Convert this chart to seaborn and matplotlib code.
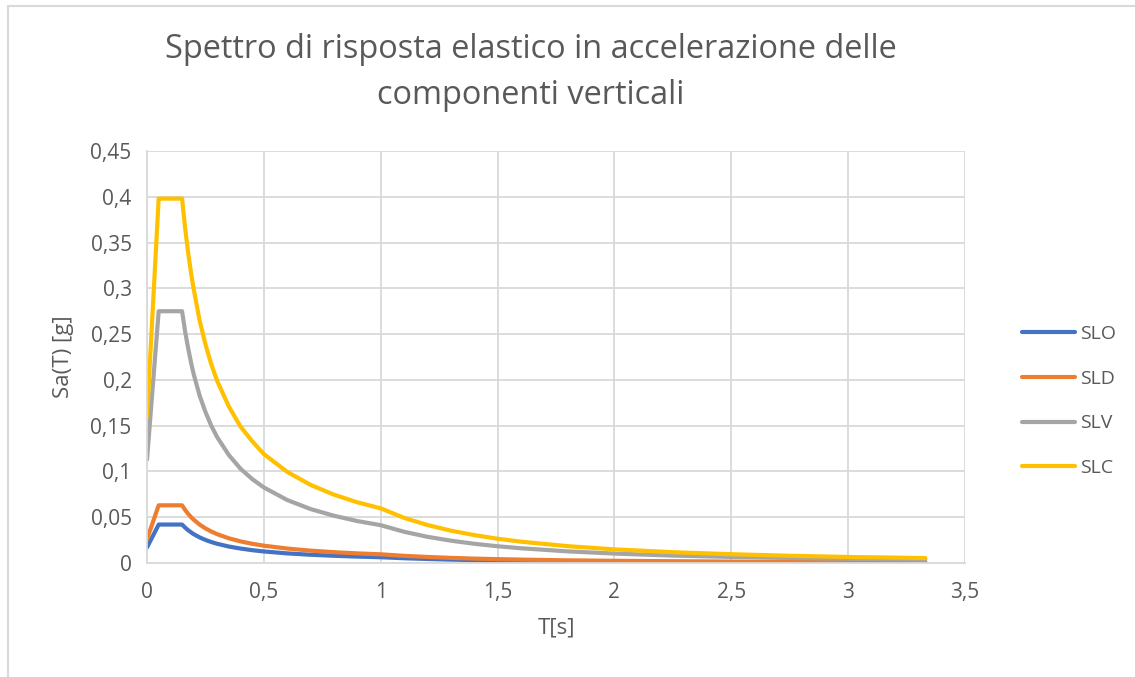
import matplotlib
matplotlib.use("Agg")
import matplotlib.pyplot as plt
import matplotlib.lines as mlines
import seaborn as sns
import pandas as pd

# Periods T [s] and spectral accelerations Sa(T) [g] for each limit state
periods = [0.0, 0.05, 0.15, 0.163, 0.175, 0.19, 0.2, 0.225, 0.25, 0.275, 0.3, 0.35,
           0.4, 0.45, 0.5, 0.6, 0.7, 0.8, 0.9, 1.0, 1.1, 1.2, 1.3, 1.4, 1.5, 1.6,
           1.8, 2.0, 2.25, 2.5, 2.75, 3.0, 3.33]

slo = [0.017, 0.042, 0.042, 0.0387, 0.036, 0.0332, 0.0315, 0.028, 0.0252, 0.0229,
       0.021, 0.018, 0.0158, 0.014, 0.0126, 0.0105, 0.009, 0.0079, 0.007, 0.0063,
       0.0052, 0.0044, 0.0037, 0.0032, 0.0028, 0.0025, 0.0019, 0.0016, 0.0012,
       0.001, 0.0008, 0.0007, 0.0006]
sld = [0.026, 0.063, 0.063, 0.058, 0.054, 0.0497, 0.0473, 0.042, 0.0378, 0.0344,
       0.0315, 0.027, 0.0236, 0.021, 0.0189, 0.0158, 0.0135, 0.0118, 0.0105, 0.0095,
       0.0078, 0.0066, 0.0056, 0.0048, 0.0042, 0.0037, 0.0029, 0.0024, 0.0019,
       0.0015, 0.0012, 0.0011, 0.0009]
slv = [0.113, 0.275, 0.275, 0.253, 0.236, 0.217, 0.206, 0.183, 0.165, 0.150,
       0.1375, 0.118, 0.103, 0.0917, 0.0825, 0.0688, 0.0589, 0.0516, 0.0458, 0.0413,
       0.0341, 0.0286, 0.0244, 0.0210, 0.0183, 0.0161, 0.0127, 0.0103, 0.0081,
       0.0066, 0.0055, 0.0046, 0.0037]
slc = [0.160, 0.398, 0.398, 0.366, 0.341, 0.314, 0.299, 0.265, 0.239, 0.217,
       0.199, 0.171, 0.149, 0.133, 0.119, 0.0995, 0.0853, 0.0746, 0.0663, 0.0597,
       0.0493, 0.0415, 0.0353, 0.0305, 0.0265, 0.0233, 0.0184, 0.0149, 0.0118,
       0.0096, 0.0079, 0.0066, 0.0054]

series_names = ["SLO", "SLD", "SLV", "SLC"]
series_values = [slo, sld, slv, slc]
colors = ["#4472C4", "#ED7D31", "#A5A5A5", "#FFC000"]

x_ticks = [0, 0.5, 1, 1.5, 2, 2.5, 3, 3.5]
y_ticks = [0, 0.05, 0.1, 0.15, 0.2, 0.25, 0.3, 0.35, 0.4, 0.45]

rows = []
for name, vals in zip(series_names, series_values):
    for t, v in zip(periods, vals):
        rows.append({"T": t, "Sa": v, "Stato": name})
df = pd.DataFrame(rows)

sns.set_theme(style="white")
plt.rcParams["font.family"] = ["Open Sans", "DejaVu Sans"]

text_color = "#595959"
grid_color = "#D9D9D9"

fig = plt.figure(figsize=(11.35, 6.77), dpi=100)
ax = fig.add_axes([147 / 1135, 1 - 563 / 677, (965 - 147) / 1135, (563 - 151) / 677])

sns.lineplot(data=df, x="T", y="Sa", hue="Stato", hue_order=series_names,
             palette=colors, linewidth=3.0, sort=False, estimator=None,
             legend=False, ax=ax,
             solid_capstyle="round", solid_joinstyle="round")

ax.set_xlim(0, 3.5)
ax.set_ylim(0, 0.45)
ax.set_xticks(x_ticks)
ax.set_yticks(y_ticks)


def fmt(v):
    s = f"{v:g}"
    return s.replace(".", ",")


ax.set_xticklabels([fmt(v) for v in x_ticks])
ax.set_yticklabels([fmt(v) for v in y_ticks])
ax.tick_params(axis="both", colors=grid_color, labelcolor=text_color,
               labelsize=15, length=6, width=1.3, direction="out")
ax.tick_params(axis="x", pad=8)
ax.tick_params(axis="y", pad=5)

ax.grid(True, color=grid_color, linewidth=1.3)
ax.set_axisbelow(True)
for side in ["top", "right"]:
    ax.spines[side].set_visible(False)
for side in ["left", "bottom"]:
    ax.spines[side].set_color(grid_color)
    ax.spines[side].set_linewidth(1.3)

ax.set_xlabel("T[s]", fontsize=16, color=text_color, labelpad=10)
ax.set_ylabel("Sa(T) [g]", fontsize=16, color=text_color, labelpad=12)

fig.text(531 / 1135, 1 - 50 / 677, "Spettro di risposta elastico in accelerazione delle",
         ha="center", va="center", fontsize=23.4, color=text_color)
fig.text(531 / 1135, 1 - 95 / 677, "componenti verticali",
         ha="center", va="center", fontsize=23.4, color=text_color)

handles = [mlines.Line2D([], [], color=c, linewidth=3.0, solid_capstyle="round")
           for c in colors]
fig.legend(handles, series_names, loc="center left",
           bbox_to_anchor=(1004 / 1135, 1 - 401 / 677), frameon=False,
           fontsize=14, labelcolor=text_color, handlelength=2.75,
           handletextpad=0.25, labelspacing=1.38)

# Chart area border
border = plt.Rectangle((7.5 / 1135, -0.05), 1.2, 1 - 5.5 / 677 + 0.05,
                       transform=fig.transFigure, fill=False,
                       edgecolor=grid_color, linewidth=1.5)
fig.patches.append(border)

fig.savefig("out.png", dpi=100, facecolor="white")
